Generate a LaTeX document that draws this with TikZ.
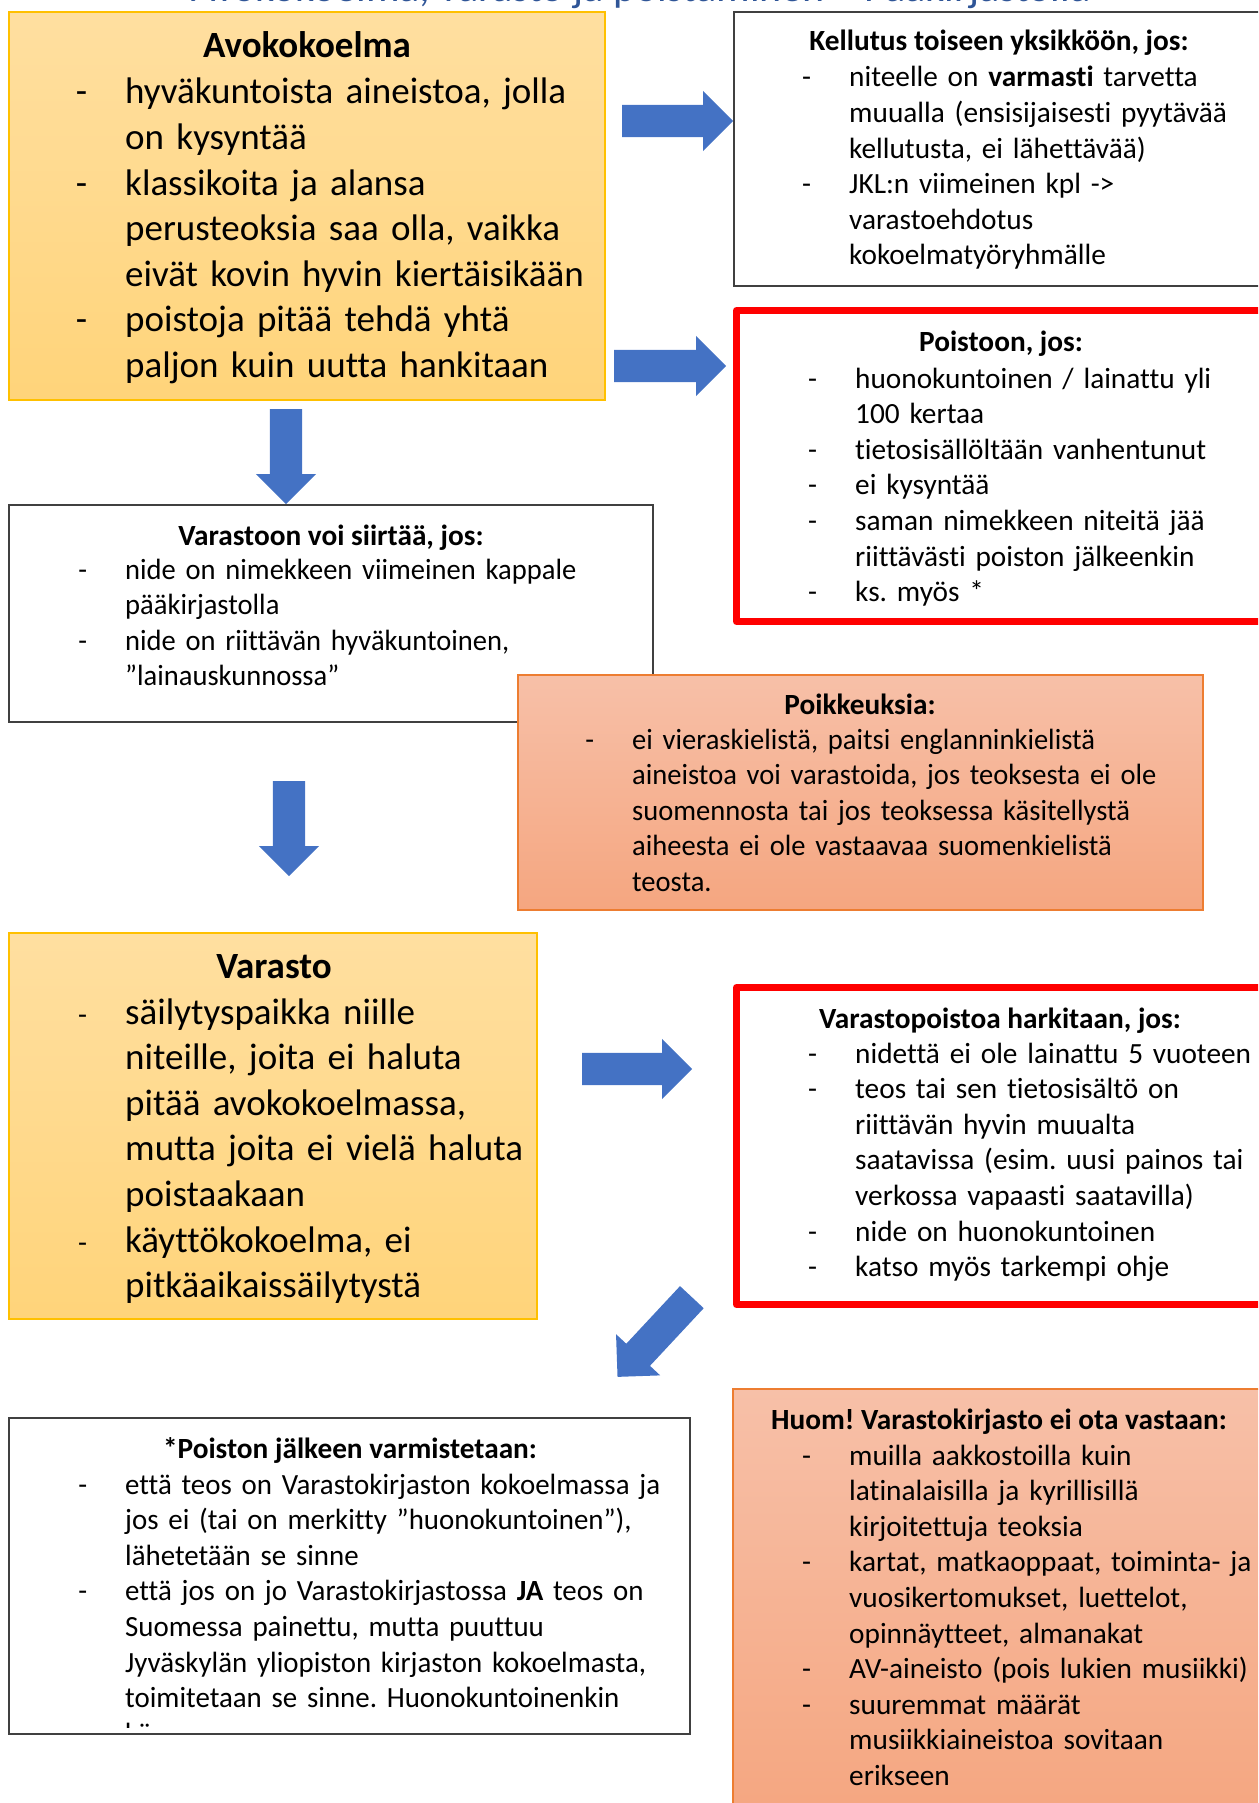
\documentclass[tikz,border=0pt]{standalone}
\usepackage{fontspec}
\setmainfont{Carlito}[Ligatures=NoCommon]
\newfontfamily\narrowfont{Carlito}[Ligatures=NoCommon, FakeStretch=0.974]
\newfontfamily\slimfont{Carlito}[Ligatures=NoCommon, FakeStretch=0.986]
\usetikzlibrary{shapes.arrows,positioning}

\definecolor{goldtop}{RGB}{255,223,160}
\definecolor{goldbot}{RGB}{255,212,122}
\definecolor{goldline}{RGB}{255,192,0}
\definecolor{salmtop}{RGB}{247,192,168}
\definecolor{salmbot}{RGB}{245,166,128}
\definecolor{salmline}{RGB}{237,125,49}
\definecolor{arrowblue}{RGB}{68,114,196}
\definecolor{titleblue}{RGB}{47,85,151}
\definecolor{greyline}{RGB}{64,64,64}

\frenchspacing
\newcommand\itm{\leavevmode\llap{-\hspace{38pt}}}
\newcommand\sitm{\leavevmode\llap{{\smalltxt-}\hspace{38pt}}}
\newcommand\bigtxt{\fontsize{37}{45.6}\selectfont}
\newcommand\smalltxt{\fontsize{29.3}{35.6}\selectfont}

\tikzset{
  frame/.style={rectangle, inner sep=0pt, outer sep=0pt, anchor=north west},
  goldbox/.style={frame, draw=goldline, line width=1.3pt, top color=goldtop, bottom color=goldbot},
  salmbox/.style={frame, draw=salmline, line width=1.3pt, top color=salmtop, bottom color=salmbot},
  plainbox/.style={frame, draw=greyline, line width=1.3pt, fill=white},
  redbox/.style={frame, draw=red, line width=7pt, line join=round, fill=white},
  head/.style={anchor=base, inner sep=0pt, font=\smalltxt\bfseries},
  bighead/.style={head, font=\bigtxt\bfseries},
  body/.style={anchor=base west, inner sep=0pt, text width=560pt, align=left, font=\smalltxt},
  bigbody/.style={body, font=\bigtxt},
  blockarrow/.style={single arrow, fill=arrowblue, inner xsep=0pt, inner ysep=16pt,
    single arrow head extend=14pt, anchor=tail}
}

\begin{document}
\begin{tikzpicture}[x=1pt,y=-1pt]
  \useasboundingbox (0,0) rectangle (1258,1803);
  \clip (0,0) rectangle (1258,1803);

  % page heading, cut off at the top edge
  \node[anchor=base, inner sep=0pt, text=titleblue, font=\fontsize{42}{50}\selectfont] (title)
    at (641,1.5) {Avokokoelma, varasto ja poistaminen – Pääkirjastolla};

  % Avokokoelma
  \node[goldbox, minimum width=596, minimum height=388] (avo) at (9,12) {};
  \node[bighead] (avoT) at (307,58) {Avokokoelma};
  \node[bigbody] (avoB) at (125,104) {\itm hyväkuntoista aineistoa, jolla\\ on kysyntää\\
    \itm klassikoita ja alansa\\ perusteoksia saa olla, vaikka\\ eivät kovin hyvin kiertäisikään\\
    \itm poistoja pitää tehdä yhtä\\ paljon kuin uutta hankitaan};

  % Kellutus
  \node[plainbox, minimum width=560, minimum height=274] (kel) at (734,12) {};
  \node[head] (kelT) at (999,51) {Kellutus toiseen yksikköön, jos:};
  \node[body] (kelB) at (849,87) {\itm niteelle on \textbf{varmasti} tarvetta\\
    muualla (ensisijaisesti pyytävää\\ kellutusta, ei lähettävää)\\
    \itm JKL:n viimeinen kpl ->\\ varastoehdotus\\ kokoelmatyöryhmälle};

  % Poistoon
  \node[redbox, minimum width=540, minimum height=311] (poi) at (736.5,310.5) {};
  \node[head] (poiT) at (1001,351) {Poistoon, jos:};
  \node[body] (poiB) at (855,388) {\itm huonokuntoinen / lainattu yli\\ 100 kertaa\\
    \itm tietosisällöltään vanhentunut\\ \itm ei kysyntää\\
    \itm saman nimekkeen niteitä jää\\ riittävästi poiston jälkeenkin\\ \itm ks. myös *};

  \node[blockarrow, minimum height=111] (toKel) at (622,121) {};
  \node[blockarrow, minimum height=112] (toPoi) at (614,366) {};
  \node[blockarrow, minimum height=95, rotate=-90] (toVst) at (286,409) {};

  % Varastoon
  \node[plainbox, minimum width=644, minimum height=217] (vst) at (9,505) {};
  \node[head] (vstT) at (331,545) {Varastoon voi siirtää, jos:};
  \node[body, font=\smalltxt\narrowfont] (vstB) at (125,579) {\itm nide on nimekkeen viimeinen kappale\\
    pääkirjastolla\\ \itm nide on riittävän hyväkuntoinen,\\ ”lainauskunnossa”};

  % Poikkeuksia
  \node[salmbox, minimum width=685, minimum height=235] (poik) at (518,675) {};
  \node[head] (poikT) at (860,714) {Poikkeuksia:};
  \node[body, font=\smalltxt\narrowfont] (poikB) at (632,749) {\itm ei vieraskielistä, paitsi englanninkielistä\\
    aineistoa voi varastoida, jos teoksesta ei ole\\ suomennosta tai jos teoksessa käsitellystä\\
    aiheesta ei ole vastaavaa suomenkielistä\\ teosta.};

  \node[blockarrow, minimum height=95, rotate=-90] (toVar) at (289,781) {};

  % Varasto
  \node[goldbox, minimum width=528, minimum height=386] (var) at (9,933) {};
  \node[bighead] (varT) at (274,978) {Varasto};
  \node[bigbody] (varB) at (125,1024) {\sitm säilytyspaikka niille\\ niteille, joita ei haluta\\
    pitää avokokoelmassa,\\ mutta joita ei vielä haluta\\ poistaakaan\\
    \sitm käyttökokoelma, ei\\ pitkäaikaissäilytystä};

  \node[blockarrow, minimum height=110] (toVpo) at (582,1069) {};

  % Varastopoistoa
  \node[redbox, minimum width=540, minimum height=317] (vpo) at (736.5,987.5) {};
  \node[head] (vpoT) at (1000,1028) {Varastopoistoa harkitaan, jos:};
  \node[body] (vpoB) at (855,1063) {\itm nidettä ei ole lainattu 5 vuoteen\\
    \itm teos tai sen tietosisältö on\\ riittävän hyvin muualta\\
    saatavissa (esim. uusi painos tai\\ verkossa vapaasti saatavilla)\\
    \itm nide on huonokuntoinen\\ \itm katso myös tarkempi ohje};

  \node[blockarrow, minimum height=109, rotate=-133] (toPst) at (692,1297) {};

  % Poiston jalkeen
  \node[plainbox, minimum width=681, minimum height=316] (pst) at (9,1418) {};
  \node[head] (pstT) at (350,1458) {*Poiston jälkeen varmistetaan:};
  \begin{scope}
    \clip (pst.north west) rectangle (690,1727);
    \node[body, font=\smalltxt\slimfont] (pstB) at (125,1494) {\itm että teos on Varastokirjaston kokoelmassa ja\\
      jos ei (tai on merkitty ”huonokuntoinen”),\\ lähetetään se sinne\\
      \itm että jos on jo Varastokirjastossa \textbf{JA} teos on\\
      Suomessa painettu, mutta puuttuu\\ Jyväskylän yliopiston kirjaston kokoelmasta,\\
      toimitetaan se sinne. Huonokuntoinenkin\\ käy.};
  \end{scope}

  % Huom
  \node[salmbox, minimum width=542, minimum height=430] (huom) at (733,1389) {};
  \node[head] (huomT) at (999,1429) {Huom! Varastokirjasto ei ota vastaan:};
  \node[body] (huomB) at (849,1465) {\itm muilla aakkostoilla kuin\\ latinalaisilla ja kyrillisillä\\
    kirjoitettuja teoksia\\ \itm kartat, matkaoppaat, toiminta- ja\\ vuosikertomukset, luettelot,\\
    opinnäytteet, almanakat\\ \itm AV-aineisto (pois lukien musiikki)\\
    \itm suuremmat määrät\\ musiikkiaineistoa sovitaan\\ erikseen};
\end{tikzpicture}
\end{document}
